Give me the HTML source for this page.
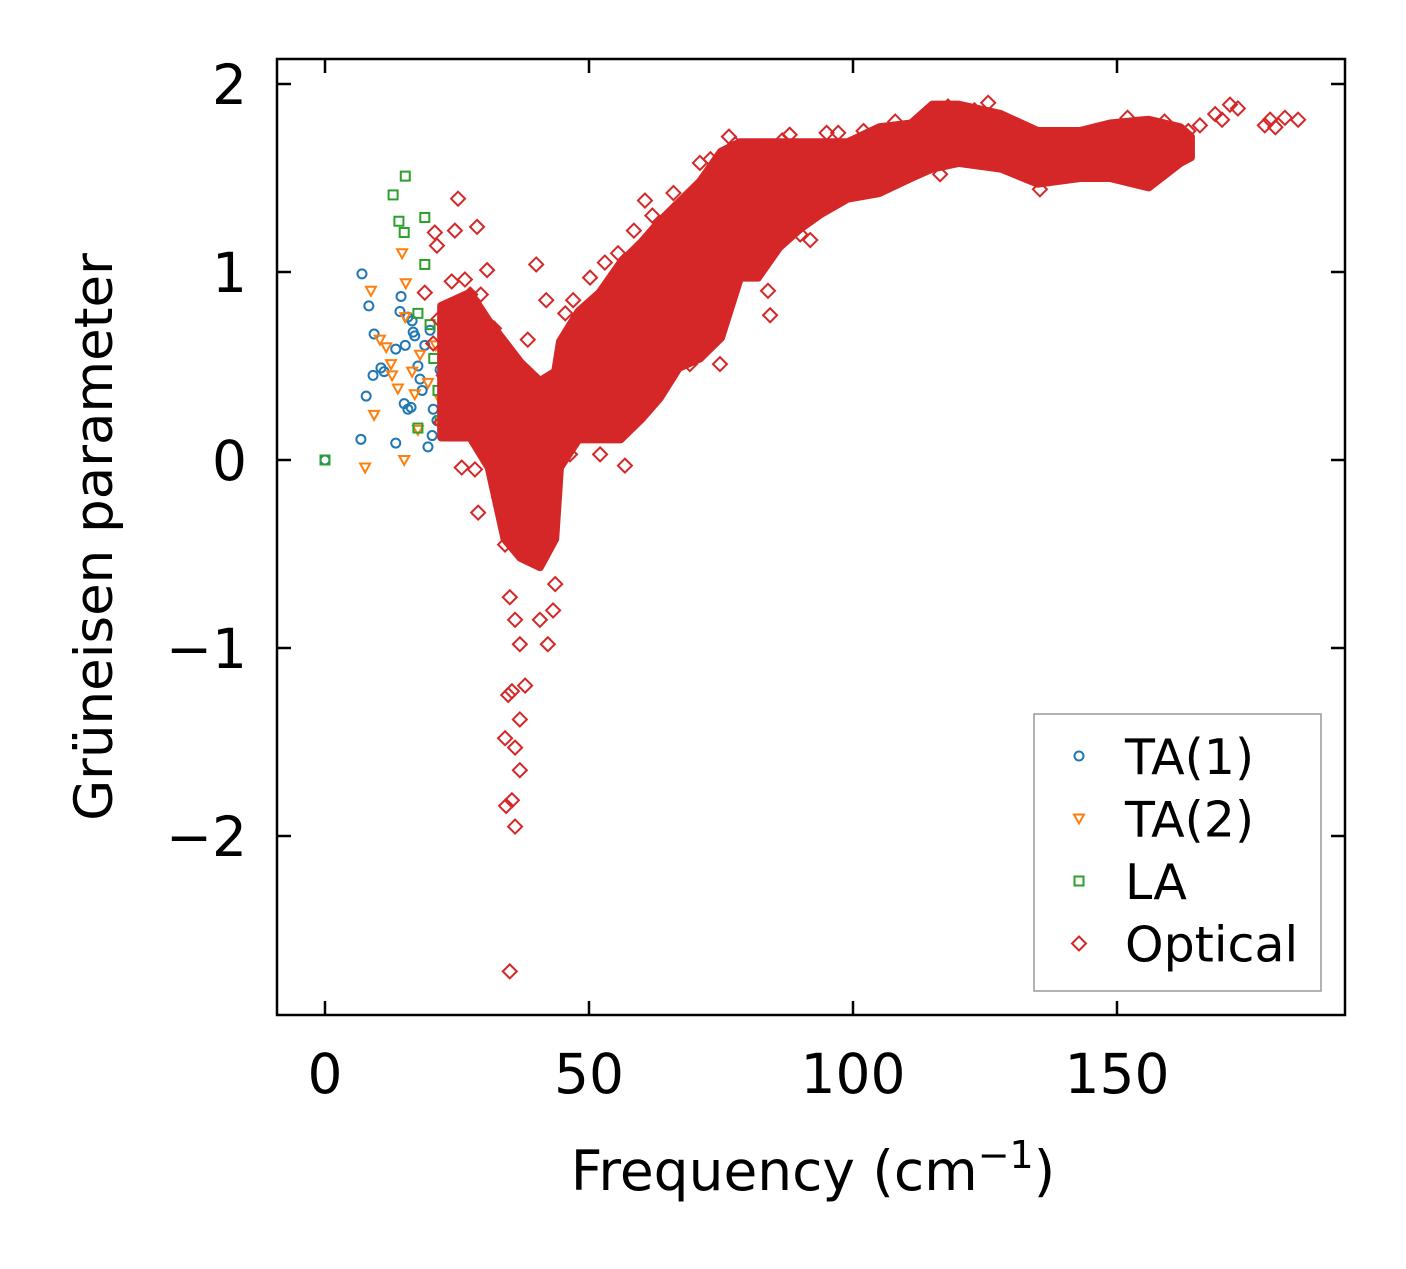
<!DOCTYPE html>
<html><head><meta charset="utf-8"><style>
html,body{margin:0;padding:0;background:#fff;}
svg text{font-family:"DejaVu Sans","Liberation Sans",sans-serif;}
</style></head><body>
<svg id="chart" width="1406" height="1264" xmlns="http://www.w3.org/2000/svg">
<rect width="1406" height="1264" fill="#fff"/>
<g id="plot"></g>
</svg>
<script>
const xTicks=[0,50,100,150];
const yTicks=[-2,-1,0,1,2];
const yTickLabels=["\u22122","\u22121","0","1","2"];
const ta1X=[0,7.0,8.3,9.3,9.1,10.6,11.2,7.8,6.8,13.4,13.4,14.4,14.2,15.2,15.7,16.5,15.0,15.7,16.3,17.0,17.6,18.0,19.5,20.3,20.5,21.2,18.9,19.9,21.8,18.4,16.7];
const ta1Y=[0,0.99,0.82,0.67,0.45,0.49,0.47,0.34,0.11,0.09,0.59,0.87,0.79,0.61,0.76,0.74,0.30,0.27,0.28,0.66,0.50,0.43,0.07,0.13,0.27,0.21,0.61,0.69,0.48,0.37,0.68];
const ta2X=[7.6,8.7,9.3,10.4,11.6,12.5,13.8,15.0,14.6,15.3,16.5,17.0,17.6,18.0,19.5,21.0,21.8,15.2,12.7];
const ta2Y=[-0.04,0.90,0.24,0.64,0.60,0.51,0.38,0.00,1.10,0.94,0.47,0.35,0.16,0.56,0.41,0.61,0.32,0.76,0.45];
const laX=[12.9,15.2,14.0,15.0,18.9,18.9,17.6,19.9,22.3,21.4,22.7,23.7,24.1,24.6,24.1,21.8,17.6,0,20.6,23.3];
const laY=[1.41,1.51,1.27,1.21,1.29,1.04,0.78,0.72,0.72,0.37,0.35,0.43,0.54,0.47,0.13,0.21,0.17,0,0.54,0.33];
const optX=[25.2,28.8,30.7,27.5,24.6,20.8,21.2,18.9,28.4,25.9,29.0,34.1,35.0,36.0,36.9,34.7,35.4,34.1,36.0,36.9,34.3,35.4,36.0,36.9,37.9,35.0,40.7,42.2,43.2,43.6,40.0,38.4,41.9,29.4,50.2,53.0,60.6,63.4,71.0,77.7,86.6,91.9,90.0,83.9,84.3,74.8,69.1,56.8,52.1,46.4,97.2,116.5,125.6,135.4,165.7,168.6,171.4,172.9,169.9,178.0,179.0,181.8,184.3,180.0,20.5,21.5,22.5,23.0,24.0,22.0,26.5,29.5,32.0,33.0,45.5,47.0,55.5,58.5,62.0,66.0,73.0,76.5,80.5,88.0,95.0,102.0,108.0,113.0,118.0,123.0,131.0,139.0,146.0,152.0,159.0,163.5];
const optY=[1.39,1.24,1.01,0.88,1.22,1.21,1.14,0.89,-0.05,-0.04,-0.28,-0.45,-0.73,-0.85,-0.98,-1.25,-1.23,-1.48,-1.53,-1.65,-1.84,-1.81,-1.95,-1.38,-1.20,-2.72,-0.85,-0.98,-0.80,-0.66,1.04,0.64,0.85,0.11,0.97,1.05,1.38,1.25,1.58,1.68,1.70,1.17,1.20,0.90,0.77,0.51,0.51,-0.03,0.03,0.03,1.74,1.52,1.90,1.44,1.78,1.84,1.89,1.87,1.81,1.78,1.81,1.82,1.81,1.77,0.62,0.75,0.45,0.30,0.95,0.20,0.96,0.88,0.70,-0.20,0.78,0.85,1.10,1.22,1.30,1.42,1.60,1.72,1.66,1.73,1.74,1.75,1.80,1.82,1.88,1.86,1.74,1.72,1.75,1.82,1.80,1.75];
const bandX=[22,27.5,31,34,37,40.7,43.6,44.5,48,52,56,60,63.4,67,71,75,78.6,82,86,90,94,99,105,111,115,120,128,135,143,148.7,156,162,164];
const bandHi=[0.82,0.89,0.74,0.63,0.52,0.42,0.47,0.63,0.79,0.89,1.05,1.16,1.27,1.37,1.48,1.64,1.69,1.69,1.69,1.69,1.69,1.69,1.77,1.79,1.89,1.89,1.84,1.75,1.75,1.79,1.81,1.77,1.72];
const bandLo=[0.12,0.12,-0.04,-0.42,-0.52,-0.57,-0.42,-0.04,0.11,0.11,0.11,0.22,0.33,0.49,0.54,0.65,0.97,0.97,1.13,1.23,1.31,1.39,1.42,1.50,1.55,1.58,1.55,1.47,1.50,1.50,1.45,1.58,1.61];

const L=277,R=1345,T=59,B=1015;
const sx=v=>325+v*5.28, sy=v=>460-v*188;
const NS="http://www.w3.org/2000/svg";
const g=document.getElementById('plot');
function mk(tag,attrs,parent){const e=document.createElementNS(NS,tag);for(const k in attrs)e.setAttribute(k,attrs[k]);(parent||g).appendChild(e);return e;}
const blue="#1f77b4",orange="#ff7f0e",green="#2ca02c",red="#d62728";
function circle(x,y,c,p){return mk('circle',{cx:x,cy:y,r:4.5,fill:'none',stroke:c,'stroke-width':2},p);}
function tri(x,y,c,p){return mk('path',{d:`M${x-5},${y-4}L${x+5},${y-4}L${x},${y+5}Z`,fill:'none',stroke:c,'stroke-width':2},p);}
function sq(x,y,c,p){return mk('rect',{x:x-4.5,y:y-4.5,width:9,height:9,fill:'none',stroke:c,'stroke-width':2},p);}
function dia(x,y,c,p){return mk('path',{d:`M${x},${y-7}L${x+7},${y}L${x},${y+7}L${x-7},${y}Z`,fill:'none',stroke:c,'stroke-width':2},p);}

const s1=mk('g',{});


ta1X.forEach((v,i)=>{const e=circle(sx(v),sy(ta1Y[i]),blue,s1);});
const s2=mk('g',{});


ta2X.forEach((v,i)=>{const e=tri(sx(v),sy(ta2Y[i]),orange,s2);});
const s3=mk('g',{});


laX.forEach((v,i)=>{const e=sq(sx(v),sy(laY[i]),green,s3);});
const s4=mk('g',{});


let pts=bandX.map((v,i)=>sx(v)+','+sy(bandHi[i]));
for(let i=bandX.length-1;i>=0;i--)pts.push(sx(bandX[i])+','+sy(bandLo[i]));
const band=mk('polygon',{points:pts.join(' '),fill:red,stroke:red,'stroke-width':8,'stroke-linejoin':'round'},s4);


optX.forEach((v,i)=>{const e=dia(sx(v),sy(optY[i]),red,s4);});

const fr=mk('rect',{x:L,y:T,width:R-L,height:B-T,fill:'none',stroke:'#000','stroke-width':2.5});


xTicks.forEach(v=>{const x=sx(v);
 mk('line',{x1:x,y1:B,x2:x,y2:B-14,stroke:'#000','stroke-width':2.5});
 mk('line',{x1:x,y1:T,x2:x,y2:T+14,stroke:'#000','stroke-width':2.5});
 const t=mk('text',{x:x,y:1093,'font-size':55,'text-anchor':'middle'});t.textContent=v;
 
 });
yTicks.forEach((v,i)=>{const y=sy(v);
 mk('line',{x1:L,y1:y,x2:L+14,y2:y,stroke:'#000','stroke-width':2.5});
 mk('line',{x1:R,y1:y,x2:R-14,y2:y,stroke:'#000','stroke-width':2.5});
 const t=mk('text',{x:247,y:y+20,'font-size':55,'text-anchor':'end'});t.textContent=yTickLabels[i];
 
 });
const xl=mk('text',{x:813,y:1190,'font-size':55,'text-anchor':'middle'});
xl.innerHTML='Frequency (cm<tspan dy="-22" font-size="38">\u22121</tspan><tspan dy="22">)</tspan>';


const yl=mk('text',{x:0,y:0,'font-size':53,'text-anchor':'middle',transform:'translate(112,537) rotate(-90)'});
yl.textContent='Grüneisen parameter';


const lg=mk('g',{});


mk('rect',{x:1034,y:714,width:287,height:277,fill:'#fff',stroke:'#999','stroke-width':1.5},lg);
const labs=['TA(1)','TA(2)','LA','Optical'],fns=[circle,tri,sq,dia],cols=[blue,orange,green,red];
labs.forEach((s,i)=>{const y=756+i*62.5;fns[i](1079,y,cols[i],lg);
 const t=mk('text',{x:1125,y:y+18,'font-size':49},lg);t.textContent=s;
 
 });
</script>
</body></html>
